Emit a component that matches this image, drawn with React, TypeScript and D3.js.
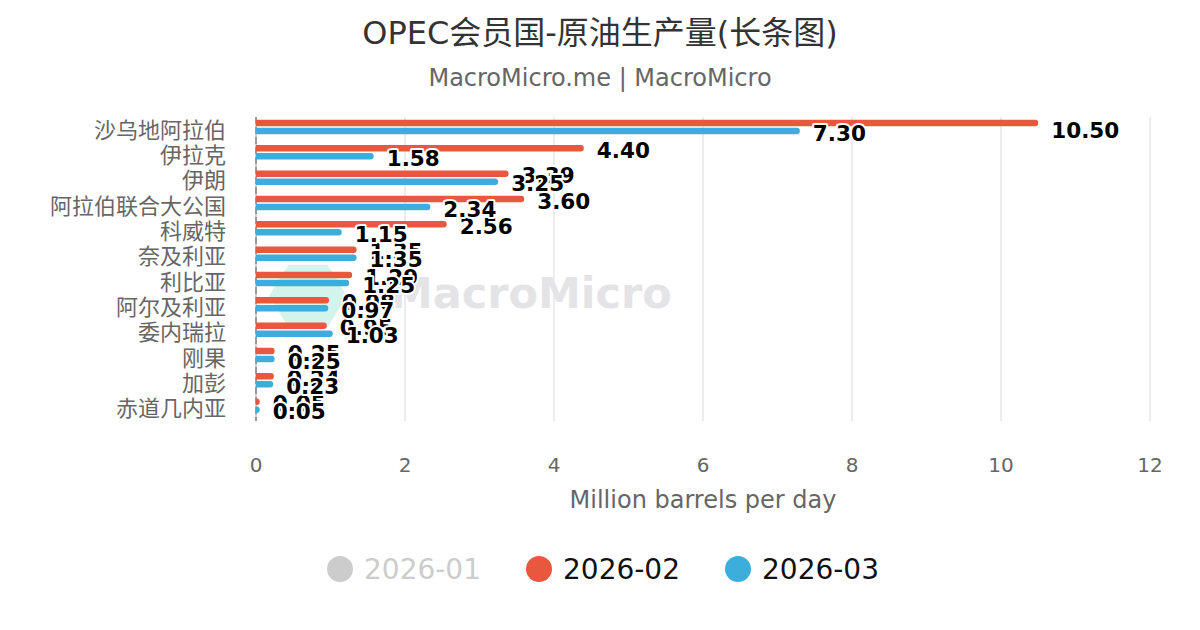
import React from "react";
import * as d3 from "d3";

const categories = ["沙乌地阿拉伯", "伊拉克", "伊朗", "阿拉伯联合大公国", "科威特", "奈及利亚", "利比亚", "阿尔及利亚", "委内瑞拉", "刚果", "加彭", "赤道几内亚"];
const feb2026 = [10.5, 4.4, 3.39, 3.6, 2.56, 1.35, 1.29, 0.98, 0.95, 0.25, 0.24, 0.05];
const mar2026 = [7.3, 1.58, 3.25, 2.34, 1.15, 1.35, 1.25, 0.97, 1.03, 0.25, 0.23, 0.05];
const xTicks = [0, 2, 4, 6, 8, 10, 12];
const legendItems = [
  { name: "2026-01", color: "#cccccc", hidden: true },
  { name: "2026-02", color: "#e9573f", hidden: false },
  { name: "2026-03", color: "#3caedb", hidden: false },
];

const FONT = "'DejaVu Sans', 'Noto Sans CJK SC', sans-serif";
const W = 1200, H = 630;
const plot = { left: 256, right: 1150, top: 117, bottom: 421 };

function barPath(x0: number, x1: number, y0: number, h: number, r: number) {
  const w = Math.max(0, x1 - x0);
  const rr = Math.min(r, w, h / 2);
  return `M${x0},${y0} H${x0 + w - rr} A${rr},${rr} 0 0 1 ${x0 + w},${y0 + rr} V${y0 + h - rr} A${rr},${rr} 0 0 1 ${x0 + w - rr},${y0 + h} H${x0} Z`;
}

export default function App() {
  const x = d3.scaleLinear().domain([0, 12]).range([plot.left, plot.right]);
  const y = d3.scaleBand<string>().domain(categories).range([plot.top, plot.bottom]).padding(0);
  const band = y.bandwidth();
  const barH = 6.5;
  const series = [
    { data: feb2026, color: legendItems[1].color, off: 6 },
    { data: mar2026, color: legendItems[2].color, off: 14 },
  ];

  return (
    <svg width={W} height={H} style={{ position: "absolute", left: 0, top: 0, background: "#fff" }} fontFamily={FONT}>
      <rect width={W} height={H} fill="#fff" />
      {/* title */}
      <text x={600} y={44} textAnchor="middle" fontSize={32} fill="#333">OPEC会员国-原油生产量(长条图)</text>
      <text x={600} y={86} textAnchor="middle" fontSize={24} fill="#666">MacroMicro.me | MacroMicro</text>

      {/* grid */}
      {xTicks.filter((t) => t > 0).map((t) => (
        <line key={t} x1={x(t)} x2={x(t)} y1={plot.top} y2={plot.bottom} stroke="#e6e6e6" strokeWidth={1.5} />
      ))}

      {/* watermark */}
      <g>
        <path
          d={d3.range(6).map((i) => {
            const a = (Math.PI / 3) * i;
            return `${i === 0 ? "M" : "L"}${308 + 39 * Math.cos(a)},${296 + 36 * Math.sin(a)}`;
          }).join(" ") + " Z"}
          fill="#d3f3ed"
        />
        <text x={390} y={308} fontSize={43} fontWeight="bold" fill="#e4e4e6" fontFamily={FONT}>MacroMicro</text>
      </g>

      {/* zero axis line */}
      <line x1={plot.left} x2={plot.left} y1={plot.top} y2={plot.bottom} stroke="#d0d0d0" strokeWidth={2} />
      <line x1={plot.left} x2={plot.left} y1={plot.top} y2={plot.bottom} stroke="#999" strokeWidth={2} strokeDasharray="7,3" />

      {/* bars */}
      {series.map((s, si) => (
        <g key={si}>
          {categories.map((c, i) => {
            const cy = (y(c) as number) + s.off;
            return <path key={c} d={barPath(x(0), x(s.data[i]), cy - barH / 2, barH, 3)} fill={s.color} />;
          })}
        </g>
      ))}

      {/* data labels */}
      {series.map((s, si) => (
        <g key={si}>
          {categories.map((c, i) => {
            const cy = Math.max((y(c) as number) + s.off + 2, plot.top + 13);
            return (
              <text
                key={c}
                x={x(s.data[i]) + 13}
                y={cy + 7.5}
                fontSize={21.5}
                fontWeight="bold"
                fill="#000"
                stroke="#fff"
                strokeWidth={4}
                strokeLinejoin="round"
                paintOrder="stroke"
              >
                {s.data[i].toFixed(2)}
              </text>
            );
          })}
        </g>
      ))}

      {/* category labels */}
      {categories.map((c) => (
        <text key={c} x={226} y={(y(c) as number) + band / 2 + 8} textAnchor="end" fontSize={22} fill="#666">{c}</text>
      ))}

      {/* x ticks */}
      {xTicks.map((t) => (
        <text key={t} x={x(t)} y={472} textAnchor="middle" fontSize={20} fill="#666">{t}</text>
      ))}
      <text x={(plot.left + plot.right) / 2} y={508} textAnchor="middle" fontSize={24} fill="#666">Million barrels per day</text>

      {/* legend */}
      {legendItems.map((l, i) => {
        const cx = 340 + i * 199;
        return (
          <g key={l.name}>
            <circle cx={cx} cy={569} r={13} fill={l.color} />
            <text x={cx + 24} y={579} fontSize={28} fill={l.hidden ? "#cccccc" : "#111"}>{l.name}</text>
          </g>
        );
      })}
    </svg>
  );
}
